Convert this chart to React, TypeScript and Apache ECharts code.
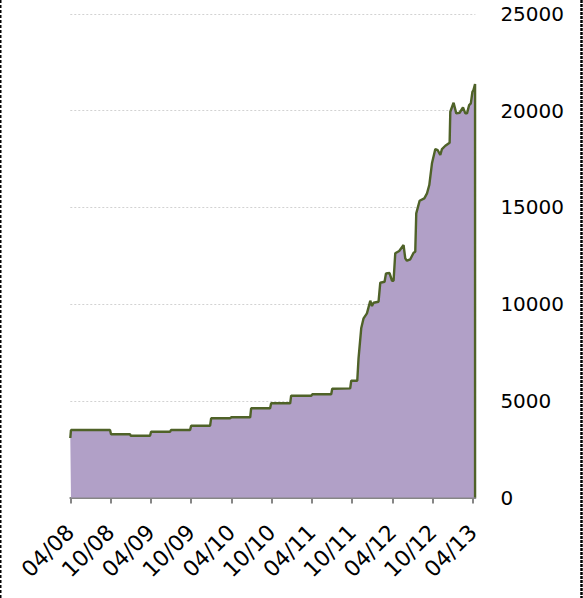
import React, { useEffect, useRef } from "react";
import * as echarts from "echarts";

// x: months since April 2008 (0 = 04/08, 60 = 04/13)
const months = [
  0, 0.1, 5.92, 6.07, 8.9, 9.0, 11.88, 12.03, 14.87, 15.0, 17.85, 18.0,
  20.83, 20.98, 23.8, 24.0, 26.8, 26.94, 29.77, 29.92, 32.76, 32.9, 35.9, 36.04,
  38.87, 39.02, 41.7, 41.85, 42.75, 42.94, 43.34, 43.69, 44.19, 44.69, 44.94, 45.18,
  45.92, 46.18, 46.82, 47.03, 47.56, 47.92, 48.16, 48.41, 49.0, 49.65, 49.9, 50.15,
  50.65, 51.14, 51.39, 51.54, 52.04, 52.74, 53.14, 53.48, 53.88, 54.38, 54.72, 55.12,
  55.37, 55.87, 56.51, 56.61, 57.1, 57.5, 58.0, 58.5, 58.85, 59.1, 59.42, 59.67,
  59.91, 60.06, 60.3, 60.3,
];
const values = [
  3076, 3490, 3490, 3267, 3267, 3195, 3195, 3402, 3402, 3490, 3490, 3712,
  3712, 4095, 4095, 4146, 4146, 4612, 4612, 4870, 4870, 5263, 5263, 5335,
  5335, 5620, 5645, 6038, 6038, 7197, 8748, 9265, 9523, 10175, 9901, 10071,
  10123, 11105, 11157, 11591, 11607, 11209, 11209, 12625, 12744, 13054, 12367, 12243,
  12315, 12656, 12708, 14693, 15345, 15469, 15727, 16156, 17278, 18017, 17966, 17707,
  18017, 18188, 18343, 19946, 20411, 19863, 19894, 20173, 19863, 19863, 20292, 20380,
  20980, 21068, 21378, 0,
];
const tickMonths = [0, 6, 12, 18, 24, 30, 36, 42, 48, 54, 60];
const tickLabels = [
  "04/08", "10/08", "04/09", "10/09", "04/10", "10/10",
  "04/11", "10/11", "04/12", "10/12", "04/13",
];
const yTicks = [0, 5000, 10000, 15000, 20000, 25000];

export default function App() {
  const ref = useRef<HTMLDivElement>(null);
  useEffect(() => {
    document.body.style.margin = "0";
    if (!ref.current) return;
    const chart = echarts.init(ref.current, null, { renderer: "svg" });
    const font = "DejaVu Sans";
    chart.setOption({
      animation: false,
      backgroundColor: "#ffffff",
      grid: {
        left: 70.3,
        right: 107.6,
        top: 14,
        bottom: 100.5,
        containLabel: false,
        outerBoundsMode: "none",
      },
      xAxis: {
        type: "value",
        min: 0,
        max: 60.35,
        splitLine: { show: false },
        axisLine: { show: true, lineStyle: { color: "#868686", width: 2 } },
        axisTick: {
          show: true,
          length: 6,
          customValues: tickMonths,
          lineStyle: { color: "#868686", width: 2 },
        },
        axisLabel: {
          customValues: tickMonths,
          rotate: 45,
          margin: 31,
          color: "#000",
          fontFamily: font,
          fontSize: 22,
          formatter: (v: number) => {
            const i = tickMonths.indexOf(Math.round(v));
            return i >= 0 ? tickLabels[i] : "";
          },
        },
      },
      yAxis: {
        type: "value",
        position: "right",
        min: yTicks[0],
        max: yTicks[yTicks.length - 1],
        interval: 5000,
        axisLine: { show: false },
        axisTick: { show: false },
        splitLine: {
          show: true,
          lineStyle: { color: "#d2d2d2", width: 1, type: [2, 2] },
        },
        axisLabel: {
          margin: 25,
          color: "#000",
          fontFamily: font,
          fontSize: 20,
          formatter: (v: number) => String(v),
        },
      },
      series: [
        {
          type: "line",
          data: months.map((m, i) => [m, values[i]]),
          showSymbol: false,
          symbol: "none",
          lineStyle: { color: "#4F6228", width: 2.4 },
          areaStyle: { color: "#B1A0C7", opacity: 1 },
          z: 3,
        },
      ],
      graphic: [
        {
          type: "line",
          shape: { x1: 0.5, y1: 0, x2: 0.5, y2: 598 },
          style: { stroke: "#000", lineWidth: 2, lineDash: [3, 2] },
          z: 100,
        },
        {
          type: "line",
          shape: { x1: 581.5, y1: 0, x2: 581.5, y2: 598 },
          style: { stroke: "#000", lineWidth: 2.5, lineDash: [3, 1] },
          z: 100,
        },
      ],
    });
    return () => chart.dispose();
  }, []);
  return <div ref={ref} style={{ width: 583, height: 598 }} />;
}
